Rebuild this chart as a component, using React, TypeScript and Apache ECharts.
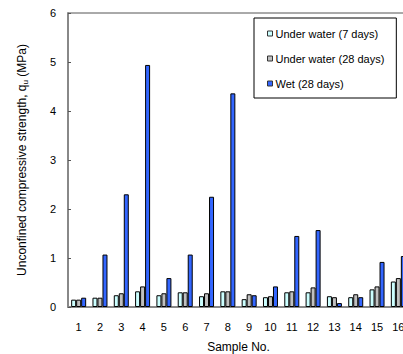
import React, { useEffect, useRef } from "react";
import * as echarts from "echarts";

const samples = ["1","2","3","4","5","6","7","8","9","10","11","12","13","14","15","16"];
const underWater7 = [0.15,0.19,0.24,0.32,0.24,0.30,0.22,0.32,0.16,0.20,0.30,0.30,0.22,0.20,0.36,0.52];
const underWater28 = [0.15,0.19,0.28,0.42,0.28,0.30,0.28,0.32,0.26,0.22,0.32,0.40,0.20,0.26,0.42,0.59];
const wet28 = [0.19,1.07,2.30,4.94,0.59,1.07,2.25,4.36,0.24,0.42,1.45,1.57,0.08,0.20,0.92,1.04];
const yTicks = [0, 1, 2, 3, 4, 5, 6];

const FONT = "Liberation Sans, Arial, sans-serif";

export default function App() {
  const ref = useRef<HTMLDivElement>(null);

  useEffect(() => {
    if (!ref.current) return;
    const chart = echarts.init(ref.current, undefined, { renderer: "svg" });
    const bar = (name: string, data: number[], color: string) => ({
      name,
      type: "bar",
      data,
      barWidth: 5,
      barGap: "0%",
      itemStyle: { color, borderColor: "#000", borderWidth: 1 },
    });
    chart.setOption({
      animation: false,
      backgroundColor: "#fff",
      textStyle: { fontFamily: FONT },
      grid: {
        left: 68,
        top: 13,
        bottom: 47,
        right: 1,
        outerBoundsMode: "none",
        containLabel: false,
        show: true,
        borderColor: "#555",
        borderWidth: 1,
      },
      legend: {
        orient: "vertical",
        left: 254,
        top: 18,
        padding: [10, 12, 9, 13],
        itemGap: 14,
        itemWidth: 5,
        itemHeight: 5,
        icon: "rect",
        borderColor: "#000",
        borderWidth: 1,
        backgroundColor: "#fff",
        textStyle: { fontSize: 11, color: "#000", fontFamily: FONT, padding: [0, 0, 0, -2] },
        itemStyle: { borderColor: "#333", borderWidth: 1 },
      },
      xAxis: {
        type: "category",
        data: samples,
        name: "Sample No.",
        nameLocation: "middle",
        nameGap: 34,
        nameTextStyle: { fontSize: 12, color: "#000", fontFamily: FONT },
        axisLine: { lineStyle: { color: "#888", width: 2 } },
        axisTick: { show: false },
        axisLabel: { fontSize: 11, color: "#000", margin: 14, fontFamily: FONT },
      },
      yAxis: {
        type: "value",
        min: yTicks[0],
        max: yTicks[yTicks.length - 1],
        interval: 1,
        name: "Unconfined compressive strength, q{sub|u} (MPa)",
        nameLocation: "middle",
        nameGap: 39,
        nameTextStyle: {
          fontSize: 12,
          color: "#000",
          fontFamily: FONT,
          rich: { sub: { fontSize: 8, verticalAlign: "bottom", padding: [6, 0, 0, 0] } },
        },
        axisLine: { show: true, lineStyle: { color: "#888", width: 2 } },
        axisTick: { show: true, inside: true, length: 3, lineStyle: { color: "#555" } },
        splitLine: { show: false },
        axisLabel: { fontSize: 11, color: "#000", margin: 12, fontFamily: FONT },
      },
      series: [
        bar("Under water (7 days)", underWater7, "#ccffff"),
        bar("Under water (28 days)", underWater28, "#c0c0c0"),
        bar("Wet (28 days)", wet28, "#3366ff"),
      ],
    });
    return () => chart.dispose();
  }, []);

  return (
    <div style={{ position: "fixed", left: 0, top: 0, width: 403, height: 354, overflow: "hidden", background: "#fff" }}>
      <div ref={ref} style={{ width: 410, height: 354 }} />
    </div>
  );
}
